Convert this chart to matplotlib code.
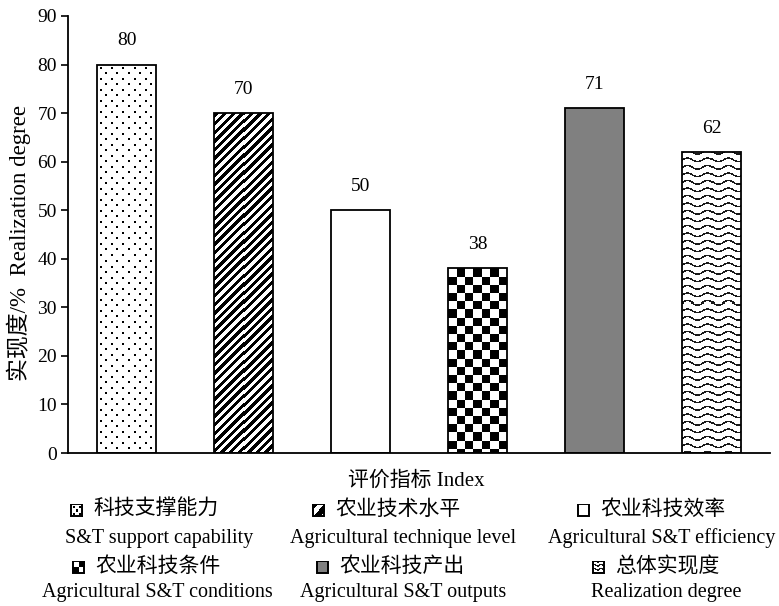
import numpy as np
import matplotlib
matplotlib.use("Agg")
import matplotlib.pyplot as plt
from matplotlib.patches import Rectangle

plt.rcParams['font.family'] = ['Liberation Serif', 'Noto Sans CJK SC']

# Data
labels_cn = ["科技支撑能力", "农业技术水平", "农业科技效率",
             "农业科技条件", "农业科技产出", "总体实现度"]
labels_en = ["S&T support capability", "Agricultural technique level",
             "Agricultural S&T efficiency", "Agricultural S&T conditions",
             "Agricultural S&T outputs", "Realization degree"]
values = [80, 70, 50, 38, 71, 62]
yticks = [0, 10, 20, 30, 40, 50, 60, 70, 80, 90]

W, H, DPI = 779, 606, 100
AX_L, AX_R, AX_T, AX_B = 68, 770, 16, 453
fig = plt.figure(figsize=(W / DPI, H / DPI), dpi=DPI)
ax = fig.add_axes([AX_L / W, 1 - AX_B / H, (AX_R - AX_L) / W, (AX_B - AX_T) / H])

ax.set_xlim(0, 6)
ax.set_ylim(0, 90)
px_per_x = (AX_R - AX_L) / 6
px_per_y = (AX_B - AX_T) / 90


# ---- fill textures (arrays of ink, 0 = white, 1 = black) ----
def dots_tex(h, w, dx=11.0, dy=5.5, size=2):
    img = np.zeros((h, w))
    r = 0
    y = 3.0
    while y < h:
        off = 3.0 + (dx / 2 if r % 2 else 0.0)
        xx = off
        while xx < w:
            yi, xi = int(y), int(xx)
            img[yi:yi + size, xi:xi + size] = 1
            xx += dx
        y += dy
        r += 1
    return img


def stripes_tex(h, w, period=8.6, duty=0.5):
    yy, xx = np.mgrid[0:h, 0:w].astype(float)
    d = ((xx + yy) % period) / period
    return (d < duty).astype(float)


def checker_tex(h, w, s=8.2):
    yy, xx = np.mgrid[0:h, 0:w].astype(float)
    return (((yy // s) + (xx // s)) % 2).astype(float)


def wave_tex(h, w, period=7.5, lam=20.0, amp=1.8, th=1.6):
    yy, xx = np.mgrid[0:h, 0:w].astype(float)
    d = (yy + amp * np.sin(2 * np.pi * xx / lam)) % period
    return np.where(d < th, 0.9, 0.0)


textures = [dots_tex, stripes_tex, None, checker_tex, None, wave_tex]
faces = ['white', 'white', 'white', 'white', '#808080', 'white']

x = np.arange(len(values)) + 0.5
bars = []
for xi, v, fc in zip(x, values, faces):
    b = ax.bar(xi, v, width=0.5, facecolor=fc, edgecolor='black',
               linewidth=1.3, zorder=2)[0]
    bars.append(b)


def fill_texture(bar, tex_fn):
    x0, y0 = bar.get_x(), bar.get_y()
    bw, bh = bar.get_width(), bar.get_height()
    wpx = int(round(bw * px_per_x))
    hpx = int(round(bh * px_per_y))
    img = tex_fn(hpx, wpx)
    im = ax.imshow(img, cmap='gray_r', vmin=0, vmax=1, interpolation='nearest',
                   extent=(x0, x0 + bw, y0, y0 + bh), origin='upper',
                   aspect='auto', zorder=2.5)
    im.set_clip_path(bar)
    bar.set_facecolor('none')
    bar.set_zorder(3)


for b, tex in zip(bars, textures):
    if tex is not None:
        fill_texture(b, tex)
ax.set_xlim(0, 6)
ax.set_ylim(0, 90)

for xi, v in zip(x, values):
    ax.annotate(f"{v}", (xi, v), xytext=(0, 11), textcoords='offset points',
                ha='center', va='bottom', fontsize=14)

ax.set_yticks(yticks)
ax.set_xticks([])
ax.tick_params(axis='y', direction='out', length=5, width=1.2, labelsize=14, pad=3)
for s in ['top', 'right']:
    ax.spines[s].set_visible(False)
for s in ['left', 'bottom']:
    ax.spines[s].set_linewidth(1.3)

fig.text(19 / W, 1 - 243 / H, "实现度/%  Realization degree", rotation=90,
         ha='center', va='center', fontsize=16.5)
fig.text(416 / W, 1 - 481 / H, "评价指标 Index", ha='center', va='center', fontsize=15)

# ---- legend: swatch + Chinese name, English name underneath ----
icon_x = [70, 312, 577, 72, 316, 592]
en_cx = [159, 403, 662, 157, 403, 666]
rows_y = [(510, 538), (567, 592)]
icon_tex = [lambda h, w: dots_tex(h, w, dx=6, dy=3, size=2),
            lambda h, w: stripes_tex(h, w, period=13, duty=0.5),
            None,
            lambda h, w: checker_tex(h, w, s=6.5),
            None,
            lambda h, w: wave_tex(h, w, period=4, lam=7, amp=0.9, th=1.5)]
ISZ = 13
for i in range(6):
    r, c = divmod(i, 3)
    ycn, yen = rows_y[r]
    ix = icon_x[i]
    fig.text((ix + ISZ + 10) / W, 1 - ycn / H, labels_cn[i], ha='left', va='center', fontsize=15)
    fig.text(en_cx[i] / W, 1 - yen / H, labels_en[i], ha='center', va='center', fontsize=14.5)
    sax = fig.add_axes([ix / W, 1 - (ycn + ISZ / 2) / H, ISZ / W, ISZ / H])
    sax.set_xlim(0, 1)
    sax.set_ylim(0, 1)
    sax.axis('off')
    if icon_tex[i] is not None:
        sax.imshow(icon_tex[i](ISZ, ISZ), cmap='gray_r', vmin=0, vmax=1,
                   extent=(0, 1, 0, 1), interpolation='nearest', aspect='auto')
    sax.add_patch(Rectangle((0.04, 0.04), 0.92, 0.92, edgecolor='black', linewidth=1.4,
                            facecolor='none' if icon_tex[i] is not None else faces[i]))

fig.savefig("out.png", dpi=DPI)
